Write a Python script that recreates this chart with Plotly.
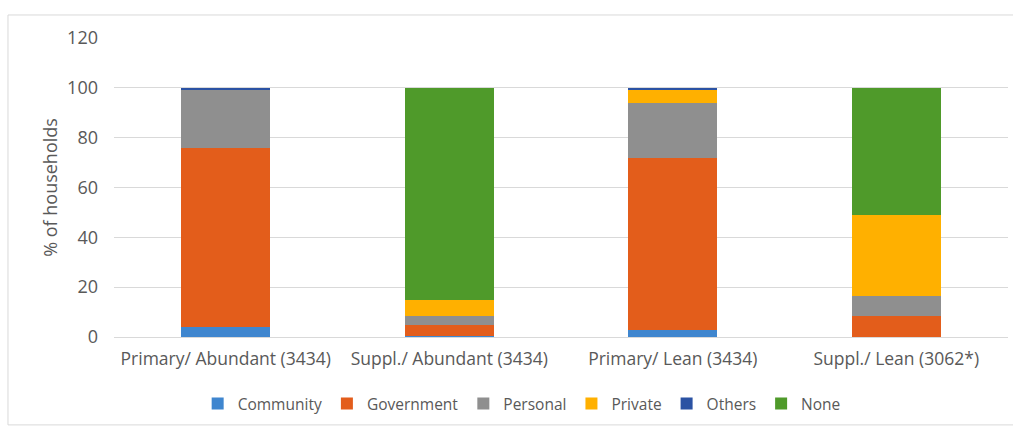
import plotly.graph_objects as go

categories = ["Primary/ Abundant (3434)", "Suppl./ Abundant (3434)",
              "Primary/ Lean (3434)", "Suppl./ Lean (3062*)"]

community = [4.0, 0.5, 3.0, 0.0]
government = [72.0, 4.5, 69.0, 8.5]
personal = [23.5, 3.5, 22.0, 8.0]
private = [0.0, 6.5, 5.3, 32.5]
others = [0.5, 0.0, 0.7, 0.0]
none = [0.0, 85.0, 0.0, 51.0]

series = [
    ("Community", community, "#3f86cf"),
    ("Government", government, "#e35d1b"),
    ("Personal", personal, "#8f8f8f"),
    ("Private", private, "#ffb000"),
    ("Others", others, "#2b52a3"),
    ("None", none, "#4f9a2a"),
]

fig = go.Figure()
for name, vals, color in series:
    fig.add_trace(go.Bar(name=name, x=categories, y=vals,
                         marker=dict(color=color, line=dict(width=0))))

font_family = "'Open Sans', Lato, sans-serif"
text_color = "#595959"

fig.update_layout(
    barmode="stack",
    bargap=0.6,
    width=1013, height=428,
    margin=dict(l=114, r=5, t=38, b=91),
    plot_bgcolor="white", paper_bgcolor="white",
    font=dict(family=font_family, size=18, color=text_color),
    xaxis=dict(showgrid=False, showline=True, linecolor="#d9d9d9", linewidth=1,
               ticks="", ticklabelstandoff=6,
               tickfont=dict(size=17.5, color=text_color)),
    yaxis=dict(range=[0, 120], dtick=20, showgrid=True, gridcolor="#d9d9d9",
               gridwidth=1, zeroline=False, showline=False, ticks="",
               ticklabelstandoff=15,
               tickfont=dict(size=18, color=text_color),
               title=dict(text="% of households", standoff=4,
                          font=dict(size=18, color=text_color))),
    legend=dict(orientation="h", x=0.456, xanchor="center", y=-0.224,
                yanchor="middle", font=dict(size=15.5, color=text_color),
                traceorder="normal", itemwidth=30, itemclick=False),
    shapes=[dict(type="rect", xref="paper", yref="paper",
                 x0=-0.1186, x1=1.01, y0=-0.294, y1=1.077,
                 line=dict(color="#d9d9d9", width=1), fillcolor="rgba(0,0,0,0)",
                 layer="below")],
)

fig.write_html("out.html")
